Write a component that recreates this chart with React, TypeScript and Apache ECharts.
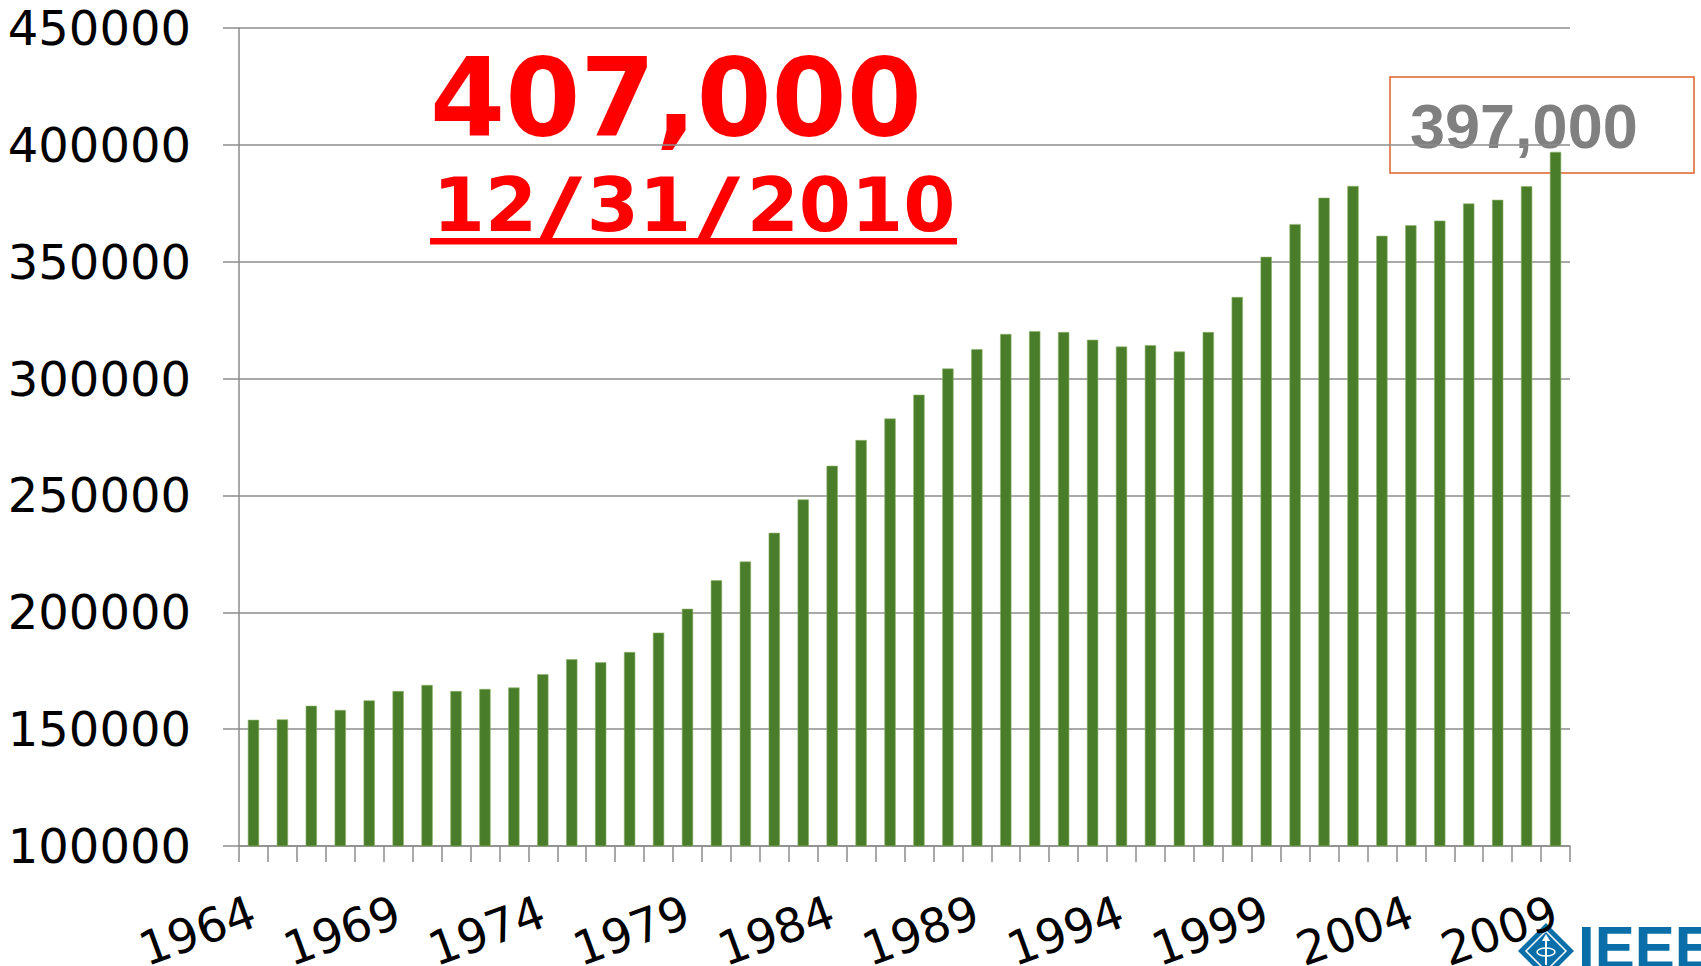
import React, { useEffect, useRef } from "react";
import * as echarts from "echarts";

const years: string[] = [
  "1964", "1965", "1966", "1967", "1968", "1969", "1970", "1971", "1972", "1973",
  "1974", "1975", "1976", "1977", "1978", "1979", "1980", "1981", "1982", "1983",
  "1984", "1985", "1986", "1987", "1988", "1989", "1990", "1991", "1992", "1993",
  "1994", "1995", "1996", "1997", "1998", "1999", "2000", "2001", "2002", "2003",
  "2004", "2005", "2006", "2007", "2008", "2009",
];

const members: number[] = [
  154000, 154200, 160000, 158200, 162300, 166300, 168900, 166300, 167200, 167800,
  173500, 179900, 178600, 183000, 191300, 201500, 213700, 221700, 234000, 248300,
  262700, 273700, 282900, 293100, 304300, 312600, 319100, 320300, 319900, 316600,
  313700, 314300, 311600, 319900, 334900, 352100, 366100, 377400, 382400, 361100,
  365600, 367600, 374900, 376500, 382300, 397000,
];

const yTicks: number[] = [100000, 150000, 200000, 250000, 300000, 350000, 400000, 450000];

const headlineValue = "407,000";
const headlineDateParts: string[] = ["12", "/", "31", "/", "2010"];
const lastValueLabel = members[members.length - 1].toLocaleString("en-US");

const GREEN = "#4A7D2A";
const GRID_GRAY = "#8C8C8C";
const IEEE_BLUE = "#0A6FA8";

export default function App() {
  const ref = useRef<HTMLDivElement>(null);

  useEffect(() => {
    document.body.style.margin = "0";
    if (!ref.current) return;
    const chart = echarts.init(ref.current, null, { renderer: "svg" });

    const dateCentres = [485, 561, 639, 719, 851];
    const dateGraphics = headlineDateParts.map((t, i) => ({
      type: "text",
      x: dateCentres[i],
      y: 205,
      scaleX: t === "/" ? 1.55 : 1,
      style: {
        text: t,
        fontFamily: "DejaVu Sans",
        fontWeight: "bold",
        fontSize: 75,
        fill: "#FF0000",
        verticalAlign: "middle",
        align: "center",
      },
    }));

    const cx = 1546;
    const cy = 951;
    const option: any = {
      animation: false,
      backgroundColor: "#ffffff",
      grid: {
        left: 239,
        right: 131,
        top: 28,
        bottom: 120,
        containLabel: false,
        outerBoundsMode: "none",
      },
      xAxis: {
        type: "category",
        data: years,
        boundaryGap: true,
        axisLine: { show: true, lineStyle: { color: GRID_GRAY, width: 1.5 } },
        axisTick: { show: true, interval: 0, length: 16, lineStyle: { color: GRID_GRAY, width: 1.5 } },
        axisLabel: {
          interval: 4,
          rotate: 20,
          margin: 64,
          fontFamily: "DejaVu Sans",
          fontSize: 47,
          color: "#000000",
        },
        splitLine: { show: false },
      },
      yAxis: {
        type: "value",
        min: yTicks[0],
        max: yTicks[yTicks.length - 1],
        interval: 50000,
        axisLine: { show: true, lineStyle: { color: GRID_GRAY, width: 1.5 } },
        axisTick: { show: true, length: 16, lineStyle: { color: GRID_GRAY, width: 1.5 } },
        axisLabel: {
          margin: 48,
          fontFamily: "DejaVu Sans",
          fontSize: 48,
          color: "#000000",
          formatter: (v: number) => String(v),
        },
        splitLine: { show: true, lineStyle: { color: GRID_GRAY, width: 1.5 } },
      },
      series: [
        {
          type: "bar",
          data: members,
          barWidth: "39%",
          itemStyle: { color: GREEN, borderColor: "#8DB36A", borderWidth: 0.6 },
        },
      ],
      graphic: [
        {
          type: "text",
          x: 430,
          y: 97,
          style: {
            text: headlineValue,
            fontFamily: "DejaVu Sans",
            fontWeight: "bold",
            fontSize: 108,
            fill: "#FF0000",
            verticalAlign: "middle",
            align: "left",
          },
        },
        ...dateGraphics,
        {
          type: "rect",
          shape: { x: 430, y: 238, width: 527, height: 6.5 },
          style: { fill: "#FF0000" },
        },
        {
          type: "rect",
          shape: { x: 1390, y: 77, width: 304, height: 96 },
          style: { fill: "none", stroke: "#E0602A", lineWidth: 1.5 },
        },
        {
          type: "text",
          x: 1410,
          y: 126,
          style: {
            text: lastValueLabel,
            fontFamily: "Liberation Sans",
            fontWeight: "bold",
            fontSize: 63,
            fill: "#808080",
            verticalAlign: "middle",
            align: "left",
          },
        },
        {
          type: "polygon",
          shape: { points: [[cx, cy - 28], [cx + 28, cy], [cx, cy + 28], [cx - 28, cy]] },
          style: { fill: IEEE_BLUE },
        },
        {
          type: "polygon",
          shape: { points: [[cx, cy - 20], [cx + 20, cy], [cx, cy + 20], [cx - 20, cy]] },
          style: { fill: "none", stroke: "#ffffff", lineWidth: 1.5 },
        },
        {
          type: "line",
          shape: { x1: cx, y1: cy - 12, x2: cx, y2: cy + 14 },
          style: { stroke: "#ffffff", lineWidth: 2 },
        },
        {
          type: "polygon",
          shape: { points: [[cx - 4, cy - 10], [cx, cy - 17], [cx + 4, cy - 10]] },
          style: { fill: "#ffffff" },
        },
        {
          type: "ellipse",
          shape: { cx: cx, cy: cy + 1, rx: 9, ry: 4 },
          style: { fill: "none", stroke: "#ffffff", lineWidth: 1.5 },
        },
        {
          type: "text",
          x: 1578,
          y: 947,
          style: {
            text: "IEEE",
            fontFamily: "Liberation Sans",
            fontWeight: "bold",
            fontSize: 60,
            fill: IEEE_BLUE,
            verticalAlign: "middle",
            align: "left",
          },
        },
      ],
    };

    chart.setOption(option);
    return () => {
      chart.dispose();
    };
  }, []);

  return <div ref={ref} style={{ width: 1701, height: 966 }} />;
}
